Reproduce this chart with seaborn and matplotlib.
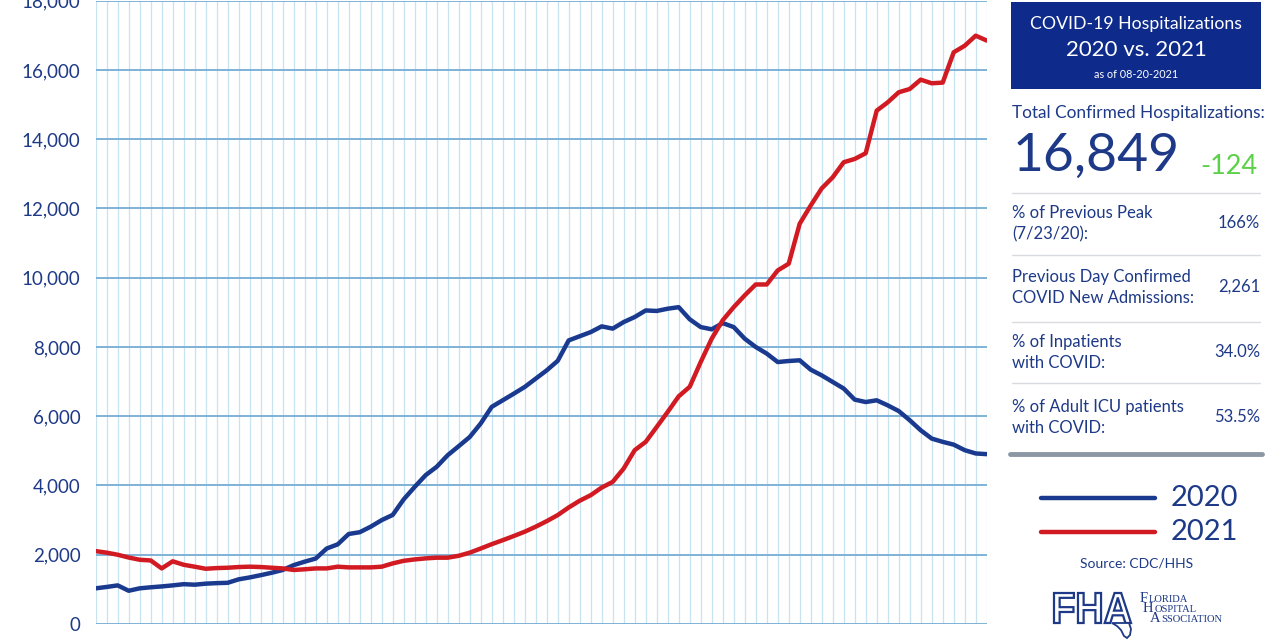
import numpy as np
import pandas as pd
import matplotlib
matplotlib.use("Agg")
import matplotlib.pyplot as plt
from matplotlib.lines import Line2D
from matplotlib.patches import Rectangle, PathPatch, Polygon
from matplotlib.textpath import TextPath
from matplotlib.font_manager import FontProperties
from matplotlib.transforms import Affine2D, IdentityTransform
import seaborn as sns

# ---------------- data ----------------
hosp_2020 = [1030, 1070, 1115, 960, 1030, 1060, 1085, 1115, 1150, 1135,
             1165, 1180, 1190, 1290, 1345, 1410, 1480, 1560, 1700, 1800,
             1890, 2180, 2300, 2600, 2650, 2810, 3000, 3150, 3600, 3960,
             4300, 4540, 4875, 5135, 5400, 5790, 6270, 6460, 6650, 6845,
             7085, 7325, 7600, 8190, 8310, 8430, 8595, 8530, 8720, 8865,
             9055, 9040, 9105, 9150, 8800, 8575, 8510, 8690, 8575, 8240,
             8000, 7810, 7565, 7595, 7615, 7345, 7180, 6990, 6800, 6480,
             6410, 6460, 6315, 6150, 5885, 5595, 5355, 5260, 5180, 5020,
             4925, 4905]
hosp_2021 = [2105, 2060, 2000, 1920, 1855, 1835, 1605, 1810, 1710, 1655,
             1595, 1615, 1625, 1645, 1655, 1645, 1625, 1605, 1560, 1580,
             1605, 1605, 1655, 1635, 1635, 1635, 1655, 1750, 1825, 1865,
             1895, 1915, 1915, 1970, 2060, 2180, 2305, 2420, 2540, 2665,
             2810, 2970, 3145, 3365, 3560, 3720, 3940, 4105, 4490, 5020,
             5260, 5690, 6125, 6575, 6850, 7565, 8240, 8770, 9150, 9490,
             9805, 9805, 10210, 10405, 11560, 12085, 12580, 12900, 13335, 13430,
             13595, 14825, 15065, 15355, 15450, 15720, 15615, 15635, 16510, 16700,
             16990, 16849]
years = ["2020", "2021"]
y_ticks = list(range(0, 18001, 2000))
y_tick_labels = [f"{v:,}" for v in y_ticks]

title_lines = ["COVID-19 Hospitalizations", "2020 vs. 2021", "as of 08-20-2021"]
total_label = "Total Confirmed Hospitalizations:"
total_value = "16,849"
total_change = "-124"
stat_labels = [["% of Previous Peak", "(7/23/20):"],
               ["Previous Day Confirmed", "COVID New Admissions:"],
               ["% of Inpatients", "with COVID:"],
               ["% of Adult ICU patients", "with COVID:"]]
stat_values = ["166%", "2,261", "34.0%", "53.5%"]
source_text = "Source: CDC/HHS"
logo_words = ["FLORIDA", "HOSPITAL", "ASSOCIATION"]

days = np.arange(len(hosp_2020))
df = pd.DataFrame({
    "day": np.concatenate([days, days]),
    "value": hosp_2020 + hosp_2021,
    "year": [years[0]] * len(days) + [years[1]] * len(days),
})

# ---------------- style ----------------
sns.set_style("white")
plt.rcParams["font.family"] = ["Lato", "DejaVu Sans"]

NAVY = "#1d3987"
BOX = "#0e2b8b"
BLUE = "#1a3a8f"
RED = "#d11a22"
GREEN = "#5bd147"
palette = {"2020": BLUE, "2021": RED}

W, H = 1280, 640
fig = plt.figure(figsize=(W / 100, H / 100), dpi=100)

def fx(x):
    return x / W

def fy(y):
    return 1 - y / H

ax_left, ax_right, ax_top, ax_bot = 95.7, 986.7, 0.7, 624.0
ax = fig.add_axes([fx(ax_left), fy(ax_bot), fx(ax_right - ax_left), (ax_bot - ax_top) / H])

sns.lineplot(data=df, x="day", y="value", hue="year", palette=palette,
             linewidth=3.2, legend=False, ax=ax, zorder=3)

ax.set_xlim(0, len(days) - 1)
ax.set_ylim(0, 18000)
ax.set_xticks(days)
ax.set_xticklabels([])
ax.set_yticks(y_ticks)
ax.set_yticklabels(y_tick_labels)
ax.tick_params(axis="both", length=0)
ax.tick_params(axis="y", labelsize=13.5, labelcolor=NAVY, pad=11)
ax.set_xlabel("")
ax.set_ylabel("")
ax.set_axisbelow(True)
ax.grid(axis="x", color="#c8e4f3", linewidth=0.9)
ax.grid(axis="y", color="#7fb2d6", linewidth=1.4)
for s in ax.spines.values():
    s.set_visible(False)

# ---------------- right panel ----------------
fig.patches.append(Rectangle((fx(1011), fy(89)), fx(250), 87 / H,
                             transform=fig.transFigure, facecolor=BOX,
                             edgecolor="none"))
cx = 1136
fig.text(fx(cx), fy(24), title_lines[0], color="white", fontsize=12.7,
         ha="center", va="center")
fig.text(fx(cx), fy(50), title_lines[1], color="white", fontsize=16,
         ha="center", va="center")
fig.text(fx(cx), fy(74), title_lines[2], color="white", fontsize=7.8,
         ha="center", va="center")

fig.text(fx(1012), fy(113), total_label, color=NAVY, fontsize=12.4,
         ha="left", va="center")
fig.text(fx(1013), fy(156), total_value, color=NAVY, fontsize=38.5,
         ha="left", va="center")
fig.text(fx(1258), fy(166), total_change, color=GREEN, fontsize=19.5,
         ha="right", va="center")

sep_y = [193, 255, 322, 383]
for yy in sep_y:
    fig.add_artist(Line2D([fx(1012), fx(1260)], [fy(yy), fy(yy)],
                          color="#d8dbe0", linewidth=1.0))

row_centers = [223, 287, 352, 417]
for (l1, l2), val, yc in zip(stat_labels, stat_values, row_centers):
    fig.text(fx(1012), fy(yc - 10), l1, color=NAVY, fontsize=12,
             ha="left", va="center")
    fig.text(fx(1012), fy(yc + 11), l2, color=NAVY, fontsize=12,
             ha="left", va="center")
    fig.text(fx(1260), fy(yc), val, color=NAVY, fontsize=12,
             ha="right", va="center")

fig.add_artist(Line2D([fx(1010), fx(1262)], [fy(454), fy(454)],
                      color="#8c97a4", linewidth=3.5, solid_capstyle="round"))

# legend (drawn as key lines + labels)
for yr, yy in zip(years, [498, 532]):
    fig.add_artist(Line2D([fx(1041), fx(1155)], [fy(yy), fy(yy)],
                          color=palette[yr], linewidth=3.2,
                          solid_capstyle="round"))
    fig.text(fx(1171), fy(yy), yr, color=NAVY, fontsize=21,
             ha="left", va="center")

fig.text(fx(1137), fy(563), source_text, color=NAVY, fontsize=10,
         ha="center", va="center")

# ---------------- FHA logo ----------------
tp = TextPath((0, 0), "FHA", size=40,
              prop=FontProperties(family="Liberation Sans", weight="bold"))
bb = tp.get_extents()
x0, x1, ytop, ybot = 1054, 1131, 593, 623
sx = (x1 - x0) / bb.width
sy = (ybot - ytop) / bb.height
tr = Affine2D().translate(-bb.x0, -bb.y0).scale(sx, sy).translate(x0, H - ybot)
fig.add_artist(PathPatch(tr.transform_path(tp), transform=IdentityTransform(),
                         facecolor="white", edgecolor=NAVY, linewidth=1.6,
                         joinstyle="miter"))
# Florida peninsula under the "A"
fl = [(1112, 623), (1129, 623), (1131, 629), (1130, 635), (1127, 638),
      (1124, 636), (1121, 630), (1117, 626)]
fig.add_artist(Polygon([(fx(a), fy(b)) for a, b in fl], closed=True,
                       transform=fig.transFigure, facecolor="white",
                       edgecolor=NAVY, linewidth=1.3))

renderer = fig.canvas.get_renderer()
serif = ["Liberation Serif", "DejaVu Serif"]
for word, xx, yy in zip(logo_words, [1140, 1143, 1150], [602, 612, 622]):
    t1 = fig.text(fx(xx), fy(yy), word[0], fontsize=10.5, color=NAVY,
                  ha="left", va="baseline", family=serif)
    ext = t1.get_window_extent(renderer=renderer)
    fig.text((ext.x1 + 1.0) / W, fy(yy), word[1:],
             fontsize=7.6, color=NAVY, ha="left", va="baseline", family=serif)

fig.savefig("out.png", dpi=100)
